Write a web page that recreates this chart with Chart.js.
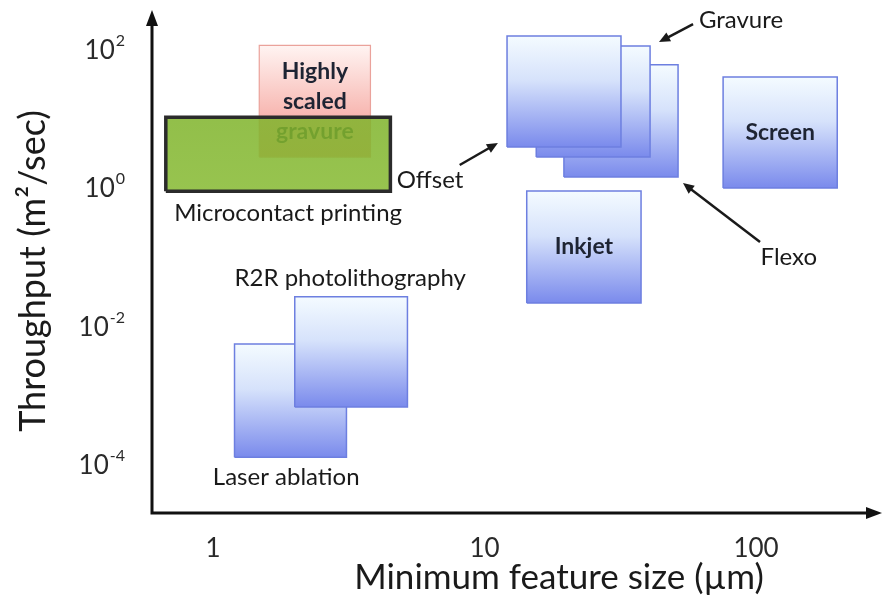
<!DOCTYPE html>
<html lang="en">
<head>
  <meta charset="UTF-8" />
  <title>Throughput vs minimum feature size</title>
  <script src="https://cdn.jsdelivr.net/npm/chart.js@4"></script>
  <style>
    html, body { margin: 0; padding: 0; background: #fff; }
  </style>
</head>
<body>
  <canvas id="chart" width="885" height="607"></canvas>

  <script>
    // printing methods, drawn bottom to top
    const boxNames = ['Highly scaled gravure', 'Microcontact printing', 'Laser ablation', 'R2R photolithography',
                      'Flexo', 'Gravure', 'Offset', 'Inkjet', 'Screen'];
    const boxKind  = ['red', 'green', 'blue', 'blue', 'blue', 'blue', 'blue', 'blue', 'blue'];
    // feature size range (µm)
    const boxXMin  = [1.48, 0.67, 1.2, 2.0, 19.6, 15.5, 12.1, 14.3, 75.6];
    const boxXMax  = [3.8, 4.5, 3.1, 5.2, 51.6, 40.7, 31.8, 37.7, 199];
    // throughput range (m²/sec)
    const boxYMin  = [2.8, 0.9, 1.3e-4, 6.9e-4, 1.44, 2.8, 3.9, 0.0218, 1.0];
    const boxYMax  = [115, 10.5, 5.6e-3, 2.7e-2, 60, 112, 157, 0.905, 40];
    const boxText  = ['Highly\nscaled\ngravure', '', '', '', '', '', '', 'Inkjet', 'Screen'];

    // labels outside the boxes (data coordinates of text centre)
    const labelText = ['Microcontact printing', 'R2R photolithography', 'Laser ablation', 'Offset', 'Gravure', 'Flexo'];
    const labelX    = [1.89, 3.2, 1.86, 6.3, 88, 132];
    const labelY    = [0.435, 0.05, 6.7e-5, 1.3, 267, 0.101];

    // pointer arrows (from -> to)
    const arrowFromX = [8.1, 58.6, 103.4];
    const arrowFromY = [2.15, 233, 0.166];
    const arrowToX   = [11.2, 43.9, 53.8];
    const arrowToY   = [4.47, 128, 1.18];

    const xTickValues = [1, 10, 100];
    const yTickValues = [1e2, 1, 1e-2, 1e-4];

    const FONT = "Lato, 'Open Sans', sans-serif";
    const INK = '#1a1a1a';

    const palette = {
      blue:  { stops: [[0, '#f4fbff'], [0.4, '#d6e2fb'], [1, '#7a8aec']], border: '#6d7fe0', width: 1.5 },
      red:   { stops: [[0, '#fff4f2'], [1, '#f3928a']], border: '#eaa29b', width: 1.2 },
      green: { stops: [[0, 'rgba(128,180,44,0.86)'], [1, 'rgba(134,186,50,0.86)']], border: '#2b2b2b', width: 3.5 }
    };

    function boxFill(chart, i) {
      const p = palette[boxKind[i]];
      if (!chart.chartArea) return p.stops[p.stops.length - 1][1];
      const y = chart.scales.y;
      const top = y.getPixelForValue(boxYMax[i]);
      const bottom = y.getPixelForValue(boxYMin[i]);
      const g = chart.ctx.createLinearGradient(0, top, 0, bottom);
      p.stops.forEach(([o, c]) => g.addColorStop(o, c));
      return g;
    }

    const datasets = boxNames.map((name, i) => ({
      label: name,
      data: [
        { x: boxXMin[i], y: boxYMin[i] },
        { x: boxXMax[i], y: boxYMin[i] },
        { x: boxXMax[i], y: boxYMax[i] },
        { x: boxXMin[i], y: boxYMax[i] },
        { x: boxXMin[i], y: boxYMin[i] }
      ],
      fill: 'shape',
      backgroundColor: ctx => boxFill(ctx.chart, i),
      borderColor: palette[boxKind[i]].border,
      borderWidth: palette[boxKind[i]].width,
      pointRadius: 0,
      tension: 0,
      order: boxNames.length - i
    }));

    function arrowHead(ctx, x0, y0, x1, y1, len, half) {
      const a = Math.atan2(y1 - y0, x1 - x0);
      ctx.beginPath();
      ctx.moveTo(x1, y1);
      ctx.lineTo(x1 - len * Math.cos(a) + half * Math.sin(a), y1 - len * Math.sin(a) - half * Math.cos(a));
      ctx.lineTo(x1 - len * Math.cos(a) - half * Math.sin(a), y1 - len * Math.sin(a) + half * Math.cos(a));
      ctx.closePath();
      ctx.fill();
    }

    const decor = {
      id: 'decor',
      afterDatasetDraw(chart, args) {
        const i = args.index;
        if (!boxText[i]) return;
        const { x, y } = chart.scales;
        const cx = (x.getPixelForValue(boxXMin[i]) + x.getPixelForValue(boxXMax[i])) / 2;
        const cy = (y.getPixelForValue(boxYMin[i]) + y.getPixelForValue(boxYMax[i])) / 2;
        const lines = boxText[i].split('\n');
        const ctx = chart.ctx;
        ctx.save();
        ctx.font = 'bold 23px ' + FONT;
        ctx.fillStyle = '#1e2433';
        ctx.textAlign = 'center';
        ctx.textBaseline = 'middle';
        lines.forEach((t, k) => ctx.fillText(t, cx, cy + (k - (lines.length - 1) / 2) * 30));
        ctx.restore();
      },
      afterDraw(chart) {
        const ctx = chart.ctx;
        const { left, right, top, bottom } = chart.chartArea;
        const { x, y } = chart.scales;
        ctx.save();

        // axes with arrow heads
        ctx.strokeStyle = '#111';
        ctx.fillStyle = '#111';
        ctx.lineWidth = 3;
        ctx.beginPath();
        ctx.moveTo(left, top + 12);
        ctx.lineTo(left, bottom);
        ctx.lineTo(right - 10, bottom);
        ctx.stroke();
        arrowHead(ctx, left, bottom, left, top - 2, 16, 6);
        arrowHead(ctx, left, bottom, right + 2, bottom, 16, 6);

        // y tick labels with exponents
        ctx.fillStyle = '#2a2a2a';
        ctx.textBaseline = 'middle';
        yTickValues.forEach(v => {
          const py = y.getPixelForValue(v);
          const exp = String(Math.round(Math.log10(v)));
          ctx.font = '16px ' + FONT;
          const ew = ctx.measureText(exp).width;
          ctx.textAlign = 'left';
          ctx.fillText(exp, 125 - ew, py - 9);
          ctx.font = '26px ' + FONT;
          ctx.textAlign = 'right';
          ctx.fillText('10', 124 - ew, py + 1);
        });

        // axis titles
        ctx.fillStyle = INK;
        ctx.font = '35px ' + FONT;
        ctx.textAlign = 'center';
        ctx.fillText('Minimum feature size (µm)', 559, 578);
        ctx.save();
        ctx.translate(33, 271);
        ctx.rotate(-Math.PI / 2);
        ctx.font = '36px ' + FONT;
        ctx.fillText('Throughput (m²/sec)', 0, 0);
        ctx.restore();

        // outside labels
        ctx.font = '24px ' + FONT;
        labelText.forEach((t, i) => {
          ctx.fillText(t, x.getPixelForValue(labelX[i]), y.getPixelForValue(labelY[i]));
        });

        // pointer arrows
        ctx.strokeStyle = '#1a1a1a';
        ctx.fillStyle = '#1a1a1a';
        ctx.lineWidth = 2.5;
        arrowFromX.forEach((fx, i) => {
          const x0 = x.getPixelForValue(fx), y0 = y.getPixelForValue(arrowFromY[i]);
          const x1 = x.getPixelForValue(arrowToX[i]), y1 = y.getPixelForValue(arrowToY[i]);
          const a = Math.atan2(y1 - y0, x1 - x0);
          ctx.beginPath();
          ctx.moveTo(x0, y0);
          ctx.lineTo(x1 - 8 * Math.cos(a), y1 - 8 * Math.sin(a));
          ctx.stroke();
          arrowHead(ctx, x0, y0, x1, y1, 11, 5);
        });

        ctx.restore();
      }
    };

    new Chart(document.getElementById('chart'), {
      type: 'line',
      data: { datasets },
      plugins: [decor],
      options: {
        responsive: false,
        animation: false,
        events: [],
        layout: { padding: { top: 12, right: 5, left: 0, bottom: 0 } },
        plugins: { legend: { display: false }, tooltip: { enabled: false } },
        scales: {
          x: {
            type: 'logarithmic',
            min: 0.596,
            max: 286,
            grid: { display: false },
            border: { display: false },
            ticks: {
              padding: 12,
              color: '#2a2a2a',
              font: { family: FONT, size: 26 },
              callback: v => String(v)
            },
            afterBuildTicks: s => { s.ticks = xTickValues.map(v => ({ value: v })); },
            afterFit: s => { s.height = 94; }
          },
          y: {
            type: 'logarithmic',
            min: 2.03e-5,
            max: 348,
            grid: { display: false },
            border: { display: false },
            ticks: { display: false },
            afterBuildTicks: s => { s.ticks = yTickValues.map(v => ({ value: v })); },
            afterFit: s => { s.width = 152; }
          }
        }
      }
    });
  </script>
</body>
</html>
